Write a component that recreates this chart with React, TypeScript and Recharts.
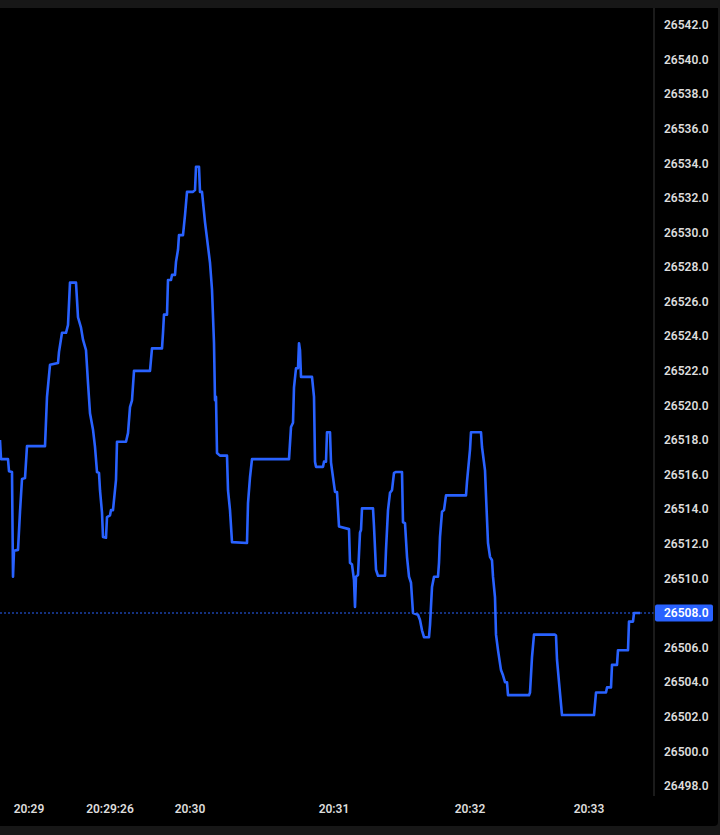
import React from 'react'
import { Line, LineChart, ReferenceLine, XAxis, YAxis } from 'recharts'

// tick sequence number (x) and last traded price
const seq = [
  0, 1, 8, 9, 12, 13, 14, 18, 20, 22, 25, 27, 45, 47, 50, 58, 59, 62, 66, 68,
  70, 76, 78, 81, 83, 86, 88, 90, 93, 95, 97, 99, 100, 102, 103, 106, 107, 110, 111, 113,
  116, 117, 126, 128, 130, 132, 134, 150, 152, 162, 163, 164, 167, 168, 171, 172, 175, 176, 178, 179,
  183, 185, 187, 193, 195, 196, 199, 200, 202, 205, 210, 212, 214, 215, 216, 217, 220, 227, 228, 230,
  232, 247, 248, 250, 252, 289, 291, 293, 294, 296, 298, 299, 300, 301, 312, 314, 315, 316, 323, 324,
  326, 327, 330, 331, 335, 337, 339, 349, 350, 352, 354, 355, 356, 358, 360, 361, 362, 373, 374, 376,
  378, 385, 386, 388, 390, 392, 394, 396, 402, 403, 405, 407, 409, 411, 413, 418, 420, 422, 424, 429,
  430, 432, 434, 438, 439, 440, 442, 444, 446, 466, 467, 470, 471, 481, 482, 485, 486, 488, 490, 492,
  493, 495, 496, 498, 501, 503, 505, 507, 508, 529, 530, 532, 534, 555, 556, 557, 559, 562, 594, 596,
  606, 607, 611, 612, 617, 618, 628, 629, 633, 634, 640,
]

const price = [
  26518.0, 26516.9, 26516.9, 26516.2, 26516.15, 26510.1, 26511.6, 26511.65, 26513.85, 26515.75,
  26515.8, 26517.65, 26517.65, 26520.5, 26522.35, 26522.45, 26523.1, 26524.2, 26524.2, 26524.65,
  26527.1, 26527.1, 26525.1, 26524.5, 26523.8, 26523.2, 26521.3, 26519.55, 26518.6, 26517.6,
  26516.15, 26516.1, 26515.1, 26513.8, 26512.4, 26512.35, 26513.55, 26513.65, 26513.95, 26513.95,
  26515.7, 26517.9, 26517.9, 26518.4, 26519.9, 26520.3, 26522.0, 26522.0, 26523.3, 26523.3,
  26524.2, 26525.25, 26525.25, 26527.25, 26527.25, 26527.55, 26527.55, 26528.3, 26529.0, 26529.85,
  26529.85, 26531.0, 26532.35, 26532.35, 26532.45, 26533.8, 26533.8, 26532.35, 26532.35, 26530.6,
  26528.25, 26526.7, 26523.6, 26520.3, 26520.5, 26517.25, 26517.1, 26517.1, 26515.1, 26513.95,
  26512.1, 26512.05, 26514.35, 26515.85, 26516.9, 26516.9, 26518.75, 26519.0, 26521.05, 26522.15,
  26522.15, 26523.6, 26523.2, 26521.65, 26521.65, 26520.5, 26516.75, 26516.45, 26516.45, 26516.75,
  26516.75, 26518.45, 26518.45, 26516.7, 26515.0, 26515.0, 26513.0, 26512.85, 26510.9, 26510.8,
  26509.9, 26508.35, 26510.1, 26510.2, 26512.65, 26512.8, 26514.05, 26514.05, 26513.0, 26510.5,
  26510.15, 26510.15, 26511.65, 26513.95, 26514.95, 26515.1, 26516.1, 26516.15, 26516.15, 26513.25,
  26513.2, 26511.25, 26510.1, 26509.75, 26508.0, 26507.9, 26507.6, 26507.0, 26506.6, 26506.6,
  26507.3, 26509.5, 26510.1, 26510.1, 26510.9, 26512.4, 26513.85, 26513.95, 26514.8, 26514.8,
  26515.6, 26517.45, 26518.45, 26518.45, 26517.6, 26516.25, 26514.8, 26512.05, 26511.25, 26511.05,
  26510.1, 26508.9, 26506.75, 26505.85, 26504.7, 26504.4, 26504.0, 26504.0, 26503.25, 26503.25,
  26503.4, 26505.45, 26506.75, 26506.75, 26506.7, 26505.3, 26504.0, 26502.1, 26502.1, 26503.4,
  26503.4, 26503.7, 26503.7, 26505.0, 26505.0, 26505.85, 26505.85, 26507.5, 26507.5, 26508.0, 26508.0,
]

const priceTicks = [
  26498, 26500, 26502, 26504, 26506, 26508, 26510, 26512, 26514, 26516, 26518, 26520,
  26522, 26524, 26526, 26528, 26530, 26532, 26534, 26536, 26538, 26540, 26542,
]

const timeTickSeq = [29, 110, 190, 334, 470, 589]
const timeTickLabels = ['20:29', '20:29:26', '20:30', '20:31', '20:32', '20:33']

const lastPrice = 26508

const data = seq.map((s, i) => ({ seq: s, price: price[i] }))

const BLUE = '#2962ff'
const TEXT = '#dcdcdc'
const FONT = 'Roboto, "Noto Sans", sans-serif'

const PriceTick = (props: any) => {
  const { x, y, payload } = props
  const v = payload.value as number
  if (v === lastPrice) {
    return (
      <g>
        <rect x={x - 9} y={y - 8.5} width={58} height={17} rx={2} fill={BLUE} />
        <text x={x} y={y} dy="0.35em" fill="#ffffff" fontSize={12} fontWeight={600} fontFamily={FONT}>
          {v.toFixed(1)}
        </text>
      </g>
    )
  }
  return (
    <text x={x} y={y} dy="0.35em" fill={TEXT} fontSize={12} fontWeight={600} fontFamily={FONT}>
      {v.toFixed(1)}
    </text>
  )
}

export default function App() {
  return (
    <div style={{ position: 'fixed', left: 0, top: 0, width: 720, height: 835, background: '#171717' }}>
      <div
        style={{
          position: 'absolute',
          left: 0,
          top: 8,
          width: 718,
          height: 818,
          background: '#000000',
          borderBottomRightRadius: 4,
          overflow: 'hidden',
        }}
      >
        <LineChart width={718} height={818} data={data} margin={{ top: 0, right: 0, bottom: 0, left: 0 }}>
          <XAxis
            dataKey="seq"
            type="number"
            domain={[0, 654]}
            ticks={timeTickSeq}
            tickFormatter={(v: number) => timeTickLabels[timeTickSeq.indexOf(v)]}
            height={30}
            axisLine={false}
            tickLine={false}
            tick={{ fill: TEXT, fontSize: 12, fontWeight: 600, fontFamily: FONT }}
            allowDataOverflow
          />
          <YAxis
            orientation="right"
            type="number"
            domain={[26497.42, 26542.98]}
            ticks={priceTicks}
            width={64}
            axisLine={{ stroke: '#363636' }}
            tickLine={false}
            tickMargin={4}
            tick={<PriceTick />}
            allowDataOverflow
          />
          <ReferenceLine y={lastPrice} stroke={BLUE} strokeDasharray="2 2" strokeWidth={1} />
          <Line
            type="linear"
            dataKey="price"
            stroke={BLUE}
            strokeWidth={2.6}
            strokeLinejoin="round"
            dot={false}
            isAnimationActive={false}
          />
        </LineChart>
      </div>
    </div>
  )
}
